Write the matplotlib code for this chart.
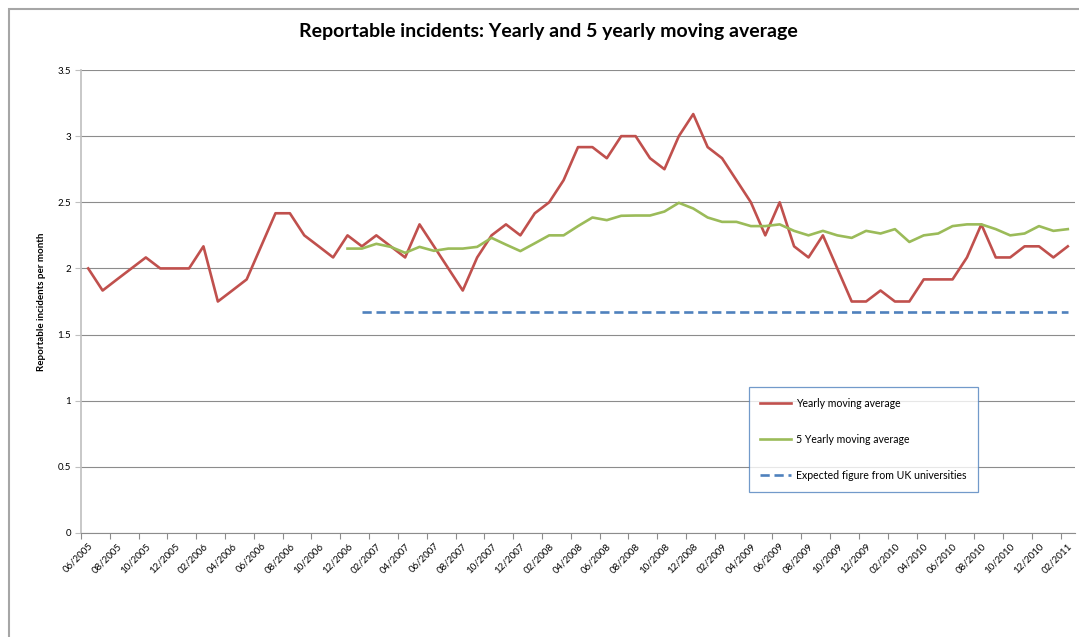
import matplotlib
matplotlib.use("Agg")
import matplotlib.pyplot as plt
from matplotlib.patches import Rectangle
import numpy as np

plt.rcParams['font.family'] = ['Lato', 'DejaVu Sans']

# monthly categories 06/2005 .. 02/2011
months = []
for y in range(2005, 2012):
    for m in range(1, 13):
        if (y == 2005 and m < 6) or (y == 2011 and m > 2):
            continue
        months.append(f"{m:02d}/{y}")

# yearly moving average (all months)
yearly = [2.0, 1.833, 1.917, 2.0, 2.083, 2.0, 2.0, 2.0, 2.167, 1.75,
          1.833, 1.917, 2.167, 2.417, 2.417, 2.25, 2.167, 2.083, 2.25, 2.167,
          2.25, 2.167, 2.083, 2.333, 2.167, 2.0, 1.833, 2.083, 2.25, 2.333,
          2.25, 2.417, 2.5, 2.667, 2.917, 2.917, 2.833, 3.0, 3.0, 2.833,
          2.75, 3.0, 3.167, 2.917, 2.833, 2.667, 2.5, 2.25, 2.5, 2.167,
          2.083, 2.25, 2.0, 1.75, 1.75, 1.833, 1.75, 1.75, 1.917, 1.917,
          1.917, 2.083, 2.333, 2.083, 2.083, 2.167, 2.167, 2.083, 2.167]

# 5 yearly moving average, starts at 12/2006
five_start = 18
five_yearly = [2.15, 2.15, 2.186, 2.163, 2.118, 2.163, 2.133, 2.15, 2.15, 2.163,
               2.231, 2.18, 2.131, 2.19, 2.25, 2.25, 2.32, 2.385, 2.365, 2.398,
               2.4, 2.4, 2.43, 2.496, 2.453, 2.385, 2.352, 2.352, 2.32, 2.32,
               2.333, 2.284, 2.25, 2.284, 2.25, 2.231, 2.284, 2.264, 2.297, 2.2,
               2.25, 2.264, 2.32, 2.333, 2.333, 2.297, 2.25, 2.264, 2.32, 2.284,
               2.297]

# expected figure, from 01/2007 to the end
expected_start = 19
expected_value = 1.667

red = '#C0504D'
green = '#9BBB59'
blue = '#4F81BD'
grid_col = '#8c8c8c'

fig = plt.figure(figsize=(10.79, 6.37), dpi=100)
ax = fig.add_axes([81 / 1079, 1 - 533 / 637, 994 / 1079, 463 / 637])

x = np.arange(len(months))
ax.plot(x, yearly, color=red, lw=1.9, label='Yearly moving average', zorder=3)
x5 = np.arange(five_start, five_start + len(five_yearly))
ax.plot(x5, five_yearly, color=green, lw=1.9, label='5 Yearly moving average', zorder=3)
xe = np.arange(expected_start, len(months))
ax.plot(xe, [expected_value] * len(xe), color=blue, lw=1.9, dashes=(3.5, 1.8),
        label='Expected figure from UK universities', zorder=3)

ax.set_xlim(-0.5, len(months) - 0.5)
ax.set_ylim(0, 3.5)
ax.set_yticks(np.arange(0, 3.51, 0.5))
ax.set_yticklabels(['0', '0.5', '1', '1.5', '2', '2.5', '3', '3.5'])
ax.grid(axis='y', color=grid_col, lw=0.8)
ax.set_axisbelow(True)

ax.set_xticks(x[::2])
ax.set_xticklabels(months[::2], rotation=45, ha='right', rotation_mode='anchor', fontsize=7)
ax.set_xticks(np.arange(-0.5, len(months), 2), minor=True)
ax.tick_params(axis='x', which='major', length=0, pad=6)
ax.tick_params(axis='x', which='minor', length=4, color=grid_col, width=0.8)
ax.tick_params(axis='y', labelsize=7, length=4, color='#bfbfbf', width=0.8, pad=3)

for s in ['top', 'right']:
    ax.spines[s].set_visible(False)
ax.spines['left'].set_color('#bfbfbf')
ax.spines['left'].set_linewidth(1.2)
ax.spines['bottom'].set_color(grid_col)
ax.spines['bottom'].set_linewidth(0.8)

ax.set_ylabel('Reportable incidents per month', fontsize=7, fontweight='bold')
ax.yaxis.set_label_coords(-0.0352, 0.5)

fig.text(548 / 1079, 1 - 32 / 637, 'Reportable incidents: Yearly and 5 yearly moving average',
         ha='center', va='center', fontsize=14, fontweight='bold')

leg = ax.legend(loc='upper left', bbox_to_anchor=(0.672, 0.0972, 0.2304, 0.2181),
                mode='expand', fontsize=7.6, frameon=True, fancybox=False,
                handlelength=2.9, handletextpad=0.5, labelspacing=2.35,
                borderpad=1.05, borderaxespad=0)
leg.get_frame().set_edgecolor(blue)
leg.get_frame().set_linewidth(0.9)

# chart area border
fig.patches.append(Rectangle((9 / 1079, -0.1), 1.2, 1 - 9 / 637 + 0.1,
                             transform=fig.transFigure, fill=False,
                             edgecolor='#a6a6a6', lw=1.5))

fig.savefig('out.png', dpi=100)
